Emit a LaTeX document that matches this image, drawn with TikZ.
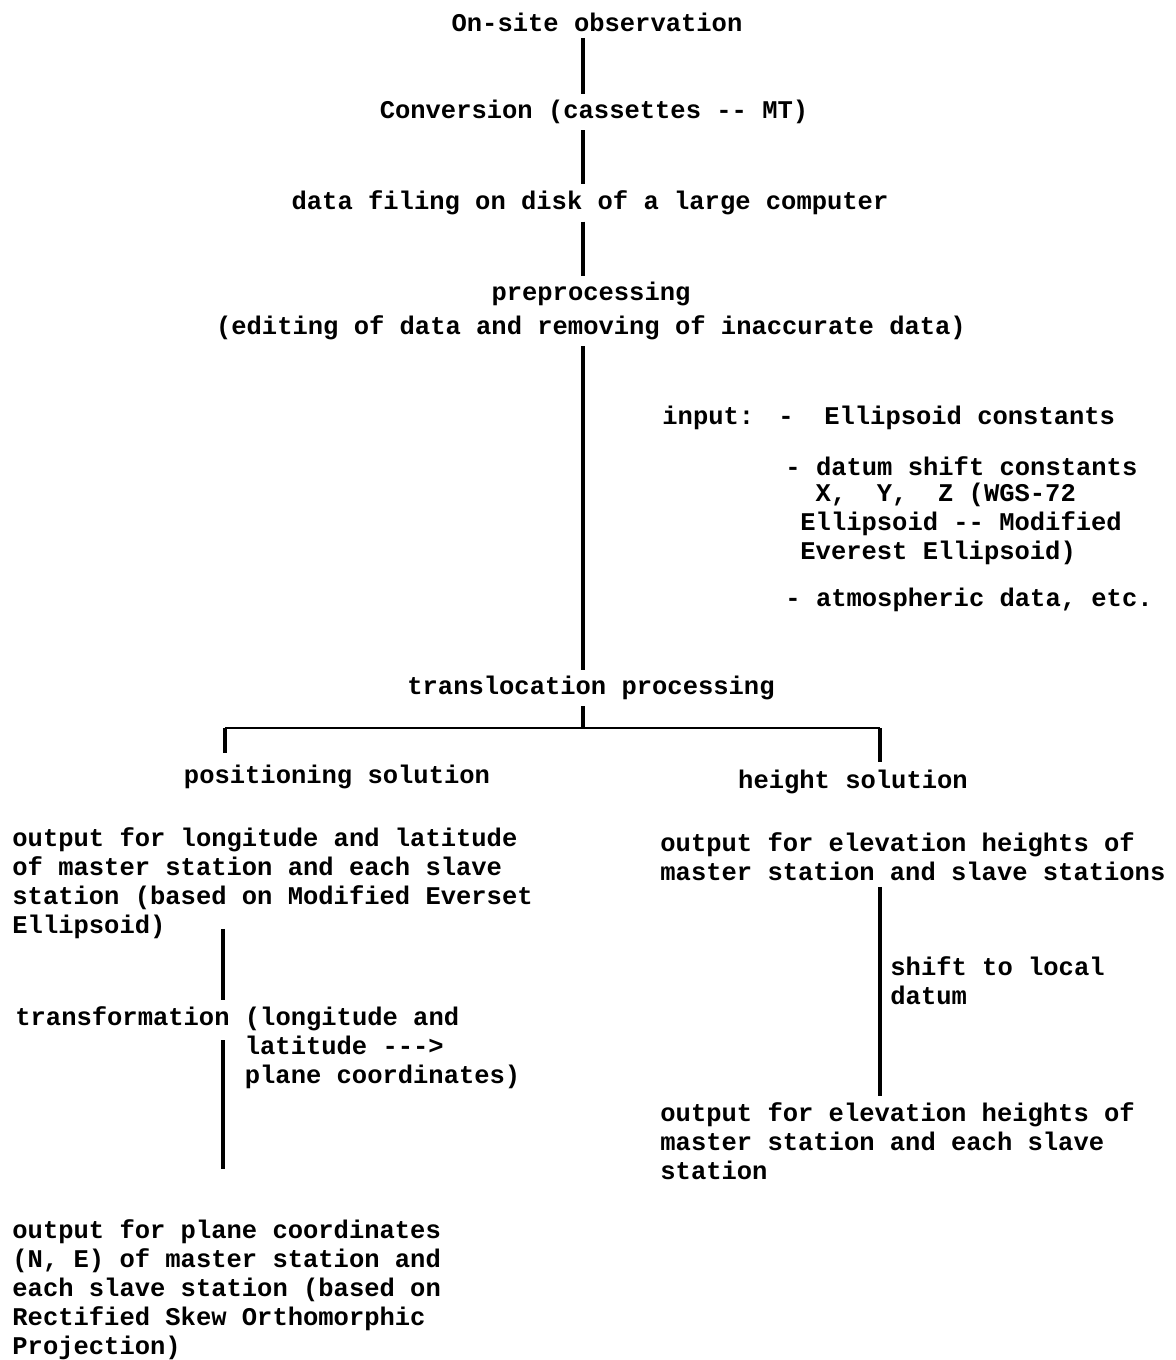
\documentclass[tikz,border=0pt]{standalone}
\usepackage{fontspec}
\setmonofont{Liberation Mono}
\usetikzlibrary{positioning}
\tikzset{
  typed/.style={font=\ttfamily\bfseries\fontsize{12.75}{14.5}\selectfont, inner sep=0pt},
  typedblock/.style={typed, align=left, anchor=north west},
  link/.style={line width=2.4pt, shorten <=3pt, shorten >=3pt},
  hbar/.style={line width=1.2pt}
}
\newcommand{\indentcols}[1]{\hspace*{#1em}} % 1 column = 0.6em

\begin{document}
\begin{tikzpicture}[x=0.5pt, y=-0.5pt]
		\useasboundingbox (0, 0) rectangle (1176, 1360);
		\coordinate (sx) at (583, 0); % main line
		\coordinate (lx) at (223, 0); % left column line
		\coordinate (rx) at (880, 0); % right column line
		
		\node [typed] (obs) at (597, 22) {On-site observation};
		\node [typed] (conv) at (594, 112) {Conversion (cassettes -- MT)};
		\node [typed] (disk) at (590, 203) {data filing on disk of a large computer};
		\node [typed, align=center] (pre) at (591, 311) {preprocessing\\[2.5pt](editing of data and removing of inaccurate data)};
		\node [typed] (trans) at (591, 688) {translocation processing};
		
		% input list
		\node [typed, anchor=west] (inp) at (662, 418) {input:};
		\node [typed, anchor=west] (inpa) at (778, 418) {-\ \ Ellipsoid constants};
		\node [typed, anchor=west] (inpb) at (785, 466) {- datum shift constants};
		\node [typedblock] (inpc) at (800, 483) {\indentcols{0.6}X,\ \ Y,\ \ Z (WGS-72\\Ellipsoid -- Modified\\Everest Ellipsoid)};
		\node [typed, anchor=west] (inpd) at (785, 600) {- atmospheric data, etc.};
		
		\node [typed] (pos) at (337, 777) {positioning solution};
		\node [typed] (hgt) at (853, 782) {height solution};
		
		% left column
		\node [typedblock] (outll) at (12, 827) {output for longitude and latitude\\of master station and each slave\\station (based on Modified Everset\\Ellipsoid)};
		\node [typedblock] (tfm) at (15, 1006) {transformation (longitude and\\\indentcols{9}latitude --->\\\indentcols{9}plane coordinates)};
		\node [typedblock] (outpc) at (12, 1219) {output for plane coordinates\\(N, E) of master station and\\each slave station (based on\\Rectified Skew Orthomorphic\\Projection)};
		
		% right column
		\node [typedblock] (outh) at (660, 832) {output for elevation heights of\\master station and slave stations};
		\node [typedblock] (shift) at (890, 956) {shift to local\\datum};
		\node [typedblock] (outhe) at (660, 1102) {output for elevation heights of\\master station and each slave\\station};
		
		\draw [link] (obs.south -| sx) -- (conv.north -| sx);
		\draw [link] (conv.south -| sx) -- (disk.north -| sx);
		\draw [link] (disk.south -| sx) -- (pre.north -| sx);
		\draw [link] (pre.south -| sx) -- (trans.north -| sx);
		\draw [link, shorten >=0pt] (trans.south -| sx) -- (sx |- 0, 728);
		
		\coordinate (lt) at (225, 728);
		\coordinate (rt) at (880, 728);
		\draw [hbar] (lt) -- (rt); % branch
		\draw [link, line width=2pt, shorten <=0pt, shorten >=6pt] (lt) -- (pos.north -| lt);
		\draw [link, line width=2pt, shorten <=0pt, shorten >=4pt] (rt) -- (hgt.north -| rt);
		
		\draw [link, shorten <=0pt] ([yshift=5pt]outll.south -| lx) -- (tfm.north -| lx);
		\draw [link, shorten <=0pt, shorten >=25pt] ([yshift=-17pt]tfm.north -| lx) -- (outpc.north -| lx);
		\draw [link] (outh.south -| rx) -- (outhe.north -| rx);
	\end{tikzpicture}
\end{document}
